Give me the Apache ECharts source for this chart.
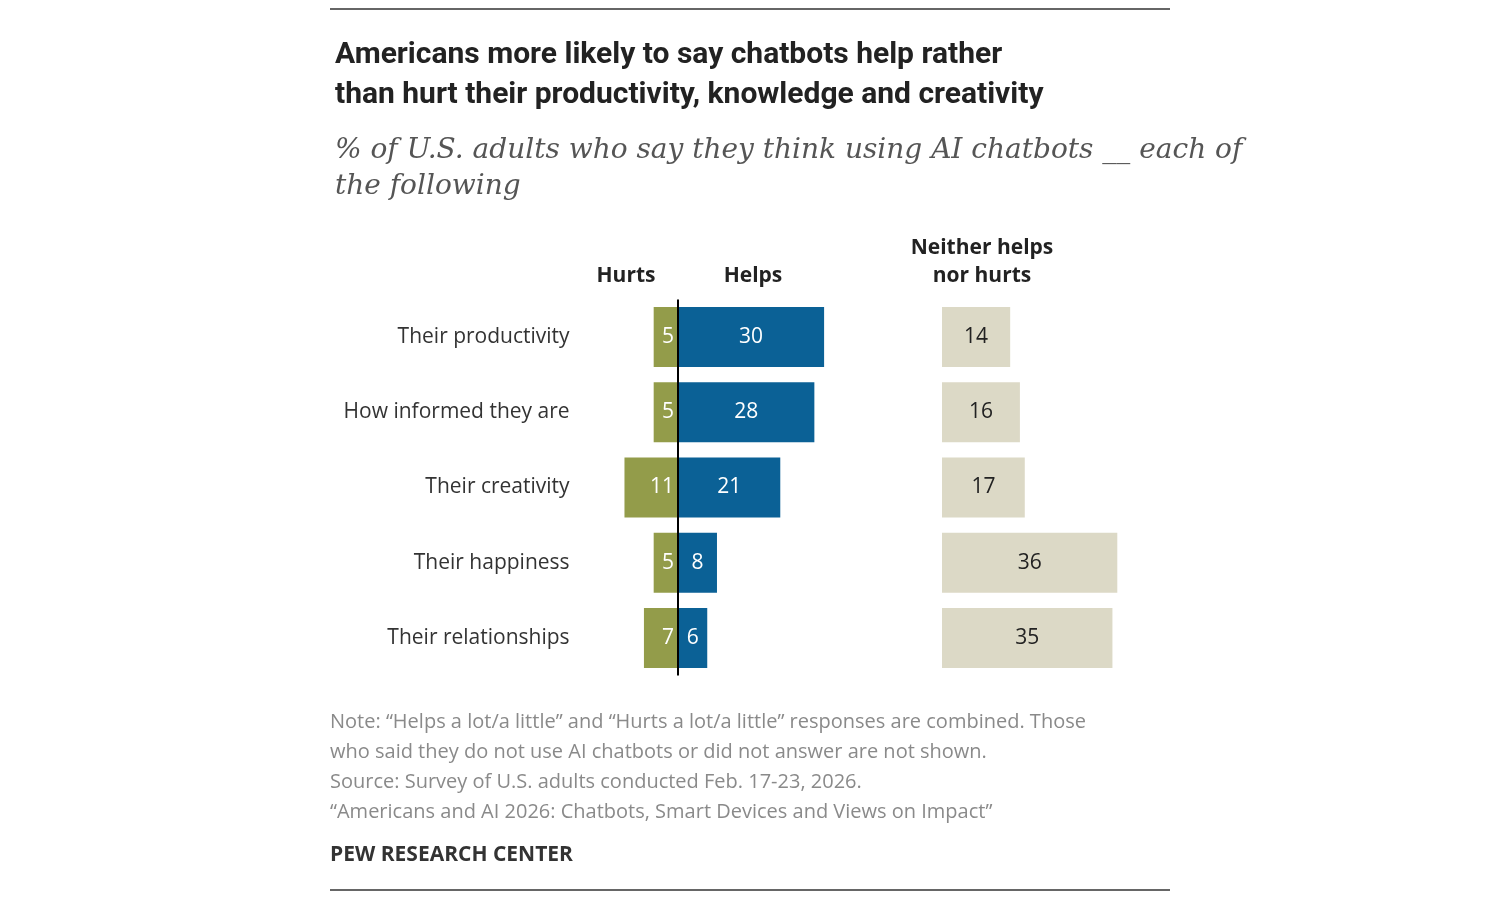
<!DOCTYPE html>
<html><head><meta charset="utf-8">
<script src="https://cdn.jsdelivr.net/npm/echarts@6/dist/echarts.min.js"></script>
<style>html,body{margin:0;background:#fff}#container{width:1500px;height:900px}</style>
</head><body><div id="container"></div>
<script>
var categories = ["Their productivity", "How informed they are", "Their creativity", "Their happiness", "Their relationships"];
var hurts = [5, 5, 11, 5, 7];
var helps = [30, 28, 21, 8, 6];
var neither = [14, 16, 17, 36, 35];

var dom = document.getElementById("container");
var myChart = echarts.init(dom, null, { renderer: "canvas" });

var gridTop = 299.5, gridH = 376;
var noteStyle = { fill: "#8a8a8a", font: "20px 'Open Sans', sans-serif" };

var option = {
    animation: false,
    textStyle: { fontFamily: "'Open Sans', sans-serif" },
    title: [
        {
            text: "Americans more likely to say chatbots help rather\nthan hurt their productivity, knowledge and creativity",
            left: 330, top: 30,
            textStyle: { fontSize: 30, fontWeight: "bold", color: "#222", lineHeight: 40, fontFamily: "Roboto" }
        },
        {
            text: "% of U.S. adults who say they think using AI chatbots __ each of\nthe following",
            left: 330, top: 128,
            textStyle: { fontSize: 28, fontStyle: "italic", fontWeight: "normal", color: "#555", lineHeight: 36, fontFamily: "'DejaVu Serif', serif" }
        }
    ],
    grid: [
        { left: 619.6, width: 204.5, top: gridTop, height: gridH },
        { left: 942, width: 175.3, top: gridTop, height: gridH }
    ],
    xAxis: [
        { gridIndex: 0, type: "value", min: -12, max: 30, show: false },
        { gridIndex: 1, type: "value", min: 0, max: 36, show: false }
    ],
    yAxis: [
        {
            gridIndex: 0, type: "category", data: categories, inverse: true,
            axisLine: { show: false }, axisTick: { show: false },
            axisLabel: { margin: 50, fontSize: 21, color: "#333", fontFamily: "'Open Sans', sans-serif" }
        },
        {
            gridIndex: 1, type: "category", data: categories, inverse: true,
            axisLine: { show: false }, axisTick: { show: false }, axisLabel: { show: false }
        }
    ],
    series: [
        {
            name: "Hurts", type: "bar", xAxisIndex: 0, yAxisIndex: 0, barWidth: 60, barGap: "-100%",
            data: hurts.map(function (v) { return -v; }),
            itemStyle: { color: "#939c4a" },
            label: { show: true, position: "insideRight", distance: 4, color: "#fff", fontSize: 21, formatter: function (p) { return Math.abs(p.value); } }
        },
        {
            name: "Helps", type: "bar", xAxisIndex: 0, yAxisIndex: 0, barWidth: 60, barGap: "-100%",
            data: helps,
            itemStyle: { color: "#0b6196" },
            label: { show: true, position: "inside", color: "#fff", fontSize: 21 },
            markLine: {
                silent: true, symbol: "none", label: { show: false },
                lineStyle: { color: "#000", type: "solid", width: 2 },
                data: [{ xAxis: 0 }]
            }
        },
        {
            name: "Neither", type: "bar", xAxisIndex: 1, yAxisIndex: 1, barWidth: 60,
            data: neither,
            itemStyle: { color: "#dcd9c6" },
            label: { show: true, position: "inside", color: "#222", fontSize: 21 }
        }
    ],
    graphic: [
        { type: "line", shape: { x1: 330, y1: 9, x2: 1170, y2: 9 }, style: { stroke: "#333", lineWidth: 1.5 } },
        { type: "line", shape: { x1: 330, y1: 890, x2: 1170, y2: 890 }, style: { stroke: "#333", lineWidth: 1.5 } },
        { type: "text", x: 626, y: 276, style: { text: "Hurts", fill: "#222", font: "bold 21px 'Open Sans', sans-serif", align: "center", verticalAlign: "middle" } },
        { type: "text", x: 753, y: 276, style: { text: "Helps", fill: "#222", font: "bold 21px 'Open Sans', sans-serif", align: "center", verticalAlign: "middle" } },
        { type: "text", x: 982, y: 262, style: { text: "Neither helps\nnor hurts", fill: "#222", font: "bold 21px 'Open Sans', sans-serif", align: "center", verticalAlign: "middle", lineHeight: 28 } },
        { type: "text", left: 330, top: 707, style: Object.assign({ text: "Note: \u201cHelps a lot/a little\u201d and \u201cHurts a lot/a little\u201d responses are combined. Those\nwho said they do not use AI chatbots or did not answer are not shown.\nSource: Survey of U.S. adults conducted Feb. 17-23, 2026.\n\u201cAmericans and AI 2026: Chatbots, Smart Devices and Views on Impact\u201d", lineHeight: 30 }, noteStyle) },
        { type: "text", left: 330, top: 845, style: { text: "PEW RESEARCH CENTER", fill: "#333", font: "bold 21px 'Open Sans', sans-serif" } }
    ]
};

myChart.setOption(option);
window.addEventListener("resize", myChart.resize);
</script>
</body></html>
